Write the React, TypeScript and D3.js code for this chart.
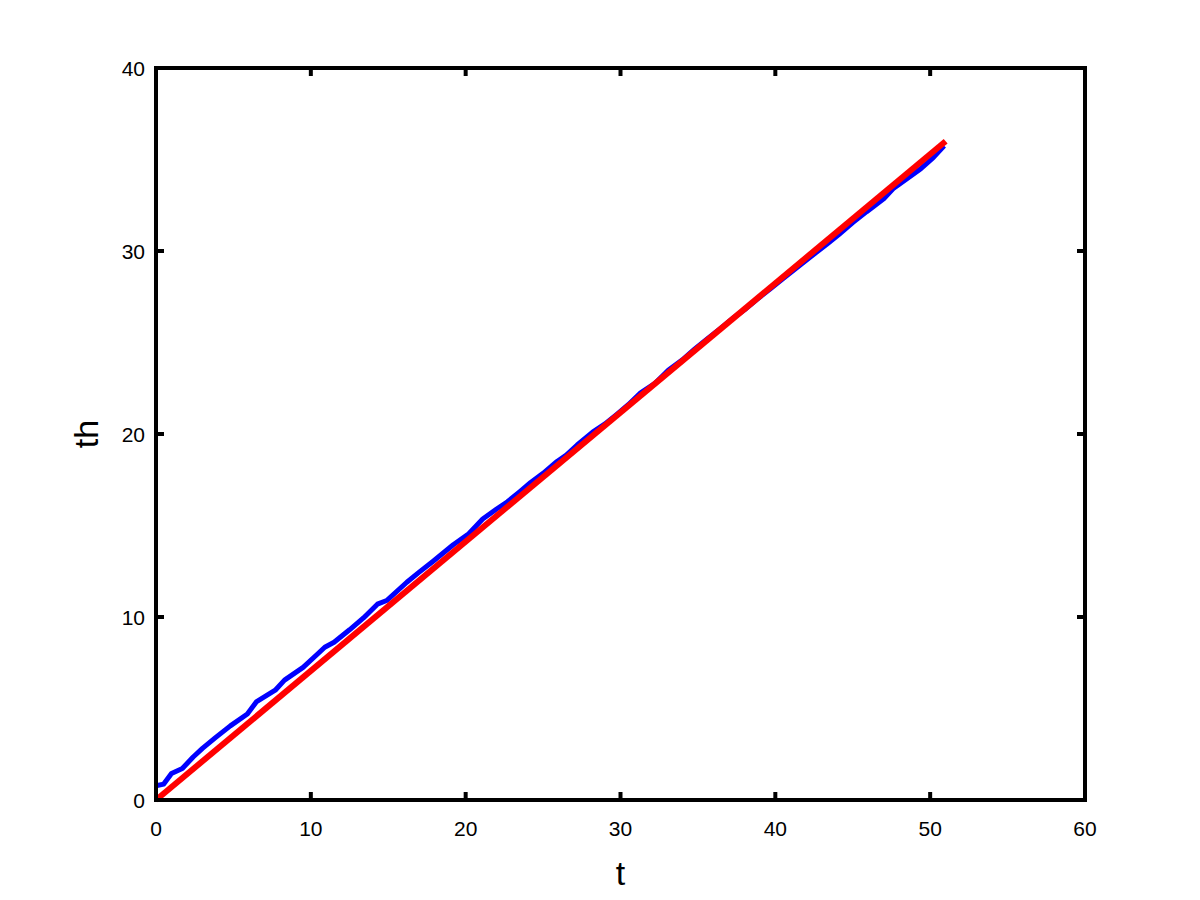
import * as d3 from 'd3'

const WIDTH = 1200
const HEIGHT = 900
const MARGIN = { top: 68, right: 115, bottom: 100, left: 156 }

const X_TICKS = [0, 10, 20, 30, 40, 50, 60]
const Y_TICKS = [0, 10, 20, 30, 40]

// measured trajectory (blue)
const BLUE_T = [
  0.0, 0.5, 1.0, 1.7, 2.4, 3.0, 3.8, 4.8, 5.9, 6.5, 7.7, 8.3, 9.5, 10.4, 10.9, 11.5,
  12.5, 13.4, 14.3, 14.9, 16.2, 17.0, 17.9, 19.2, 20.2, 21.1, 22.0, 22.7, 23.5, 24.2,
  25.0, 25.9, 26.5, 27.2, 28.2, 29.0, 29.8, 30.5, 31.3, 32.2, 33.1, 34.0, 34.8, 35.6,
  36.5, 37.3, 38.1, 38.8, 39.7, 40.5, 41.4, 42.3, 43.3, 44.1, 45.0, 45.9, 47.0, 47.6,
  48.5, 49.4, 50.2, 50.9
]
const BLUE_TH = [
  0.78, 0.87, 1.45, 1.72, 2.35, 2.82, 3.38, 4.05, 4.7, 5.38, 6.0, 6.55, 7.25, 7.95, 8.35, 8.62,
  9.3, 9.95, 10.7, 10.9, 11.9, 12.45, 13.05, 13.95, 14.55, 15.35, 15.9, 16.3, 16.85, 17.35,
  17.85, 18.5, 18.85, 19.4, 20.1, 20.55, 21.1, 21.6, 22.25, 22.75, 23.5, 24.05, 24.65, 25.2,
  25.8, 26.35, 26.85, 27.35, 27.95, 28.5, 29.1, 29.7, 30.35, 30.9, 31.55, 32.15, 32.85, 33.4,
  33.95, 34.5, 35.1, 35.75
]

// fitted line (red)
const RED_T = [0, 51]
const RED_TH = [0, 36]

export default function App() {
  const innerW = WIDTH - MARGIN.left - MARGIN.right
  const innerH = HEIGHT - MARGIN.top - MARGIN.bottom

  const x = d3.scaleLinear().domain([0, 60]).range([0, innerW])
  const y = d3.scaleLinear().domain([0, 40]).range([innerH, 0])

  const line = d3.line<[number, number]>()
    .x(d => x(d[0]))
    .y(d => y(d[1]))

  const blue = line(BLUE_T.map((t, i) => [t, BLUE_TH[i]] as [number, number]))
  const red = line(RED_T.map((t, i) => [t, RED_TH[i]] as [number, number]))

  const tickLen = 8
  const font = 'Liberation Sans, Arial, Helvetica, sans-serif'

  return (
    <svg
      width={WIDTH}
      height={HEIGHT}
      style={{ position: 'absolute', left: 0, top: 0, background: '#fff' }}
      fontFamily={font}
    >
      <g transform={`translate(${MARGIN.left}, ${MARGIN.top})`}>
        <path d={blue ?? ''} fill="none" stroke="#0000ff" strokeWidth={5} strokeLinejoin="round" />
        <path d={red ?? ''} fill="none" stroke="#ff0000" strokeWidth={6} />

        {/* ticks on all four sides, pointing inward */}
        {X_TICKS.map(t => (
          <g key={`xt-${t}`}>
            <line x1={x(t)} x2={x(t)} y1={innerH} y2={innerH - tickLen} stroke="#000" strokeWidth={4} />
            <line x1={x(t)} x2={x(t)} y1={0} y2={tickLen} stroke="#000" strokeWidth={4} />
            <text x={x(t)} y={innerH + 36} fontSize={21} textAnchor="middle" fill="#000">{t}</text>
          </g>
        ))}
        {Y_TICKS.map(t => (
          <g key={`yt-${t}`}>
            <line x1={0} x2={tickLen} y1={y(t)} y2={y(t)} stroke="#000" strokeWidth={4} />
            <line x1={innerW} x2={innerW - tickLen} y1={y(t)} y2={y(t)} stroke="#000" strokeWidth={4} />
            <text x={-11} y={y(t) + 8} fontSize={21} textAnchor="end" fill="#000">{t}</text>
          </g>
        ))}

        <rect x={0} y={0} width={innerW} height={innerH} fill="none" stroke="#000" strokeWidth={4} />

        <text x={innerW / 2} y={innerH + 85} fontSize={34} textAnchor="middle" fill="#000">t</text>
        <text
          transform={`translate(${-58}, ${innerH / 2}) rotate(-90)`}
          fontSize={34}
          textAnchor="middle"
          fill="#000"
        >
          th
        </text>
      </g>
    </svg>
  )
}
